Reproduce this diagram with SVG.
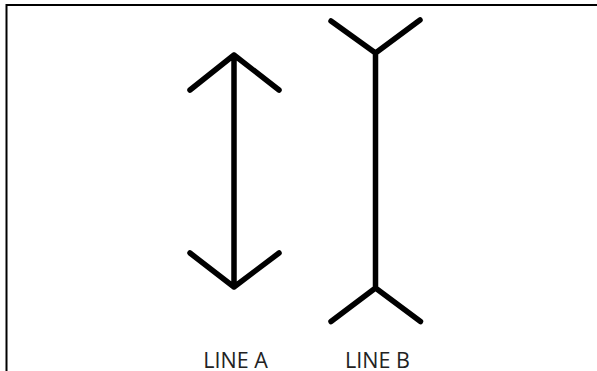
<svg xmlns="http://www.w3.org/2000/svg" width="597" height="371" viewBox="0 0 597 371">
<style>
.s{fill:none;stroke:#000;stroke-width:5.5;stroke-linecap:round;stroke-linejoin:round}
.t{font-family:"Open Sans","Liberation Sans",sans-serif;font-size:21.5px;fill:#222;text-anchor:middle}
</style>
<rect width="597" height="371" fill="#fff"/>
<path d="M6.5 371V5H597" fill="none" stroke="#000" stroke-width="2"/>
<g id="lineA">
<path class="s" d="M234 55V287M190 90L234 55L279 90M190 253L234 287L279 253"/>
<text class="t" x="235.5" y="367.5">LINE A</text>
</g>
<g id="lineB">
<path class="s" d="M375.5 53V288M331 21L375.5 53L420 20M331 321.5L375.5 288L420.5 321.5"/>
<text class="t" x="377.5" y="367.5">LINE B</text>
</g>
</svg>
